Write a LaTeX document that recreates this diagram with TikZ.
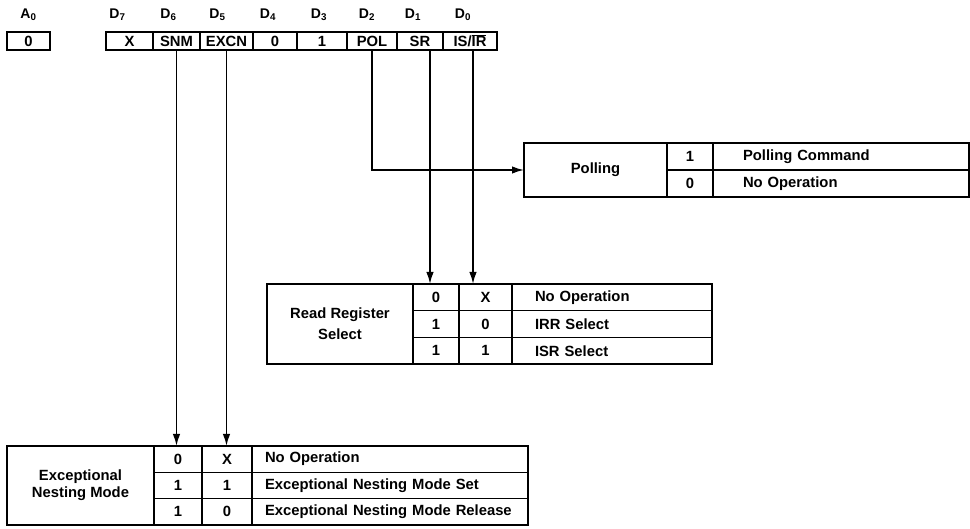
\documentclass[tikz,border=0pt]{standalone}
\usepackage{fontspec}
\setmainfont{Liberation Sans}
\usetikzlibrary{arrows.meta, positioning}
\newcommand{\tabfont}{\fontsize{14.8}{21}\selectfont\bfseries}
\newcommand{\bitfont}{\fontsize{14}{15}\selectfont\bfseries}
\tikzset{
  % Table cells (anchored at their top-left corner)
  cell/.style={
    draw, line width=1.4pt, inner sep=0pt, outer sep=0pt,
    anchor=north west, align=center,
    font=\tabfont,
  },
  regcell/.style={cell, minimum height=18pt},
  desc/.style={cell, align=left},
  % Heavy outline round each table
  frame/.style={draw, line width=2.2pt},
  % Bit names over the register
  bitlbl/.style={font=\bitfont, inner sep=0pt},
  % Arrows
  arr/.style={-{Latex[length=12pt,width=7.5pt]}, line width=1.7pt},
}

\begin{document}
\begin{tikzpicture}[x=1pt, y=-1pt]
\useasboundingbox (0,0) rectangle (970,529);

%% ═══════════════════════════════════════════════════════════════════════════
%% TOP ROW – A0 and the command byte
%% ═══════════════════════════════════════════════════════════════════════════

\node[regcell, minimum width=43pt] (a0) at (7,32) {0};

\node[regcell, minimum width=47pt] (x7)   at (106,32)        {X};
\node[regcell, minimum width=47pt] (snm)  at (x7.north east)   {SNM};
\node[regcell, minimum width=53pt] (excn) at (snm.north east)  {EXCN};
\node[regcell, minimum width=44pt] (z4)   at (excn.north east) {0};
\node[regcell, minimum width=50pt] (o3)   at (z4.north east)   {1};
\node[regcell, minimum width=50pt] (pol)  at (o3.north east)   {POL};
\node[regcell, minimum width=46pt] (sr)   at (pol.north east)  {SR};
\node[regcell, minimum width=54pt] (isir) at (sr.north east)   {IS/$\overline{\hbox{IR}}$};

\node[bitlbl, above=11pt of a0]                (la0) {A\textsubscript{0}};
\node[bitlbl, above=11pt of x7,   xshift=-12pt] (ld7) {D\textsubscript{7}};
\node[bitlbl, above=11pt of snm,  xshift=-8pt]  (ld6) {D\textsubscript{6}};
\node[bitlbl, above=11pt of excn, xshift=-9pt]  (ld5) {D\textsubscript{5}};
\node[bitlbl, above=11pt of z4,   xshift=-7pt]  (ld4) {D\textsubscript{4}};
\node[bitlbl, above=11pt of o3,   xshift=-3pt]  (ld3) {D\textsubscript{3}};
\node[bitlbl, above=11pt of pol,  xshift=-5pt]  (ld2) {D\textsubscript{2}};
\node[bitlbl, above=11pt of sr,   xshift=-7pt]  (ld1) {D\textsubscript{1}};
\node[bitlbl, above=11pt of isir, xshift=-7pt]  (ld0) {D\textsubscript{0}};

%% ═══════════════════════════════════════════════════════════════════════════
%% POLLING table
%% ═══════════════════════════════════════════════════════════════════════════

\node[cell, minimum width=143pt, minimum height=54pt] (polling) at (524,143) {Polling};
\node[cell, minimum width=46pt, minimum height=27pt] (pv1) at (polling.north east) {1};
\node[cell, minimum width=46pt, minimum height=27pt] (pv0) at (pv1.south west)     {0};
\node[desc, text width=196pt, inner xsep=30pt, minimum height=27pt] (pd1) at (pv1.north east) {Polling Command};
\node[desc, text width=196pt, inner xsep=30pt, minimum height=27pt] (pd0) at (pv0.north east) {No Operation};
\draw[frame] (polling.north west) rectangle (pd0.south east);

%% ═══════════════════════════════════════════════════════════════════════════
%% READ REGISTER SELECT table
%% ═══════════════════════════════════════════════════════════════════════════

\node[cell, minimum width=146pt, minimum height=80pt] (rrs) at (267,284) {Read Register\\Select};
\node[cell, minimum width=46pt, minimum height=26.7pt] (rra1) at (rrs.north east)  {0};
\node[cell, minimum width=46pt, minimum height=26.7pt] (rra2) at (rra1.south west) {1};
\node[cell, minimum width=46pt, minimum height=26.7pt] (rra3) at (rra2.south west) {1};
\node[cell, minimum width=53pt, minimum height=26.7pt] (rrb1) at (rra1.north east) {X};
\node[cell, minimum width=53pt, minimum height=26.7pt] (rrb2) at (rra2.north east) {0};
\node[cell, minimum width=53pt, minimum height=26.7pt] (rrb3) at (rra3.north east) {1};
\node[desc, text width=154pt, inner xsep=23pt, minimum height=26.7pt] (rrd1) at (rrb1.north east) {No Operation};
\node[desc, text width=154pt, inner xsep=23pt, minimum height=26.7pt] (rrd2) at (rrb2.north east) {IRR Select};
\node[desc, text width=154pt, inner xsep=23pt, minimum height=26.7pt] (rrd3) at (rrb3.north east) {ISR Select};
\draw[frame] (rrs.north west) rectangle (rrd3.south east);

%% ═══════════════════════════════════════════════════════════════════════════
%% EXCEPTIONAL NESTING MODE table
%% ═══════════════════════════════════════════════════════════════════════════

\node[cell, minimum width=147pt, minimum height=79pt,
      font=\fontsize{14.8}{17}\selectfont\bfseries] (enm) at (7,446) {Exceptional\\Nesting Mode};
\node[cell, minimum width=48pt, minimum height=26.3pt] (ena1) at (enm.north east)  {0};
\node[cell, minimum width=48pt, minimum height=26.3pt] (ena2) at (ena1.south west) {1};
\node[cell, minimum width=48pt, minimum height=26.3pt] (ena3) at (ena2.south west) {1};
\node[cell, minimum width=50pt, minimum height=26.3pt] (enb1) at (ena1.north east) {X};
\node[cell, minimum width=50pt, minimum height=26.3pt] (enb2) at (ena2.north east) {1};
\node[cell, minimum width=50pt, minimum height=26.3pt] (enb3) at (ena3.north east) {0};
\node[desc, text width=250pt, inner xsep=13pt, minimum height=26.3pt] (end1) at (enb1.north east) {No Operation};
\node[desc, text width=250pt, inner xsep=13pt, minimum height=26.3pt] (end2) at (enb2.north east) {Exceptional Nesting Mode Set};
\node[desc, text width=250pt, inner xsep=13pt, minimum height=26.3pt] (end3) at (enb3.north east) {\mbox{Exceptional Nesting Mode Release}};
\draw[frame] (enm.north west) rectangle (end3.south east);

%% ═══════════════════════════════════════════════════════════════════════════
%% ARROWS from the command bits
%% ═══════════════════════════════════════════════════════════════════════════

\draw[arr] (pol.south) |- (polling.west);
\draw[arr] ([xshift=10pt]sr.south) -- ([xshift=10pt]sr.south |- rra1.north);
\draw[arr] ([xshift=3pt]isir.south) -- ([xshift=3pt]isir.south |- rrb1.north);
\draw[arr] (snm.south) -- (snm.south |- ena1.north);
\draw[arr] (excn.south) -- (excn.south |- enb1.north);

\end{tikzpicture}
\end{document}
